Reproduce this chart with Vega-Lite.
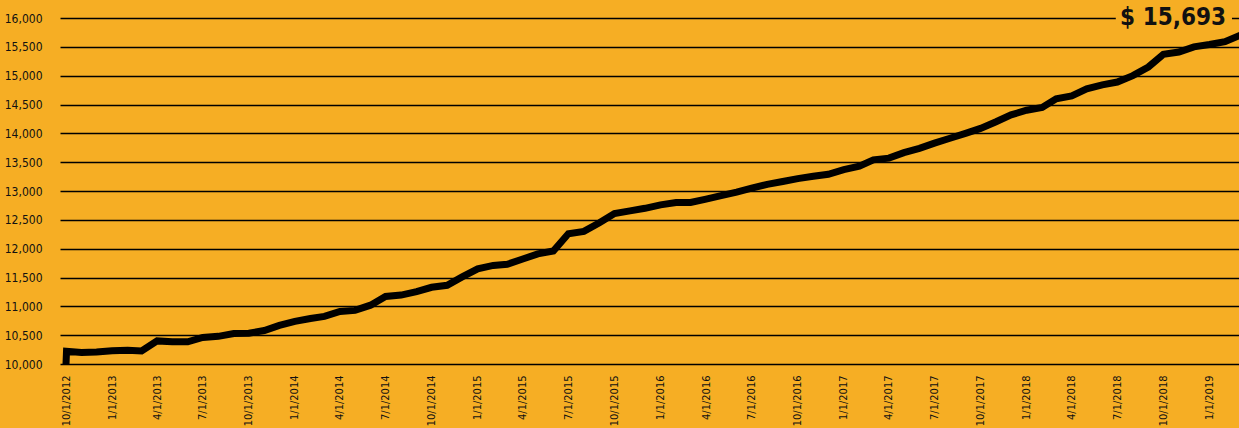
{
  "$schema": "https://vega.github.io/schema/vega-lite/v6.json",
  "autosize": {"type": "none"},
  "width": 1179,
  "height": 346,
  "padding": {"left": 60, "top": 18, "right": 0, "bottom": 64},
  "background": "#F6AE24",
  "config": {
    "view": {"stroke": null},
    "font": "DejaVu Sans Condensed, Roboto, sans-serif",
    "axis": {"labelFont": "DejaVu Sans Condensed, Roboto, sans-serif", "labelColor": "#111111"},
    "axisX": {
      "title": null,
      "format": "%-m/%-d/%Y",
      "tickCount": {"interval": "month", "step": 3},
      "labelAngle": -90,
      "labelFontSize": 11,
      "labelPadding": 11,
      "ticks": false,
      "domain": false,
      "grid": false,
      "labelOverlap": false,
      "labelFlush": false,
      "labelBound": false
    },
    "axisY": {
      "title": null,
      "tickCount": 12,
      "format": ",.0f",
      "labelFontSize": 12,
      "labelPadding": 18,
      "labelOverlap": false,
      "ticks": false,
      "domain": false,
      "grid": true,
      "gridColor": "#000000",
      "gridWidth": 1.3,
      "gridOpacity": 1,
      "labelFlush": false
    }
  },
  "datasets": {
    "growth": [
      {"date": "2012-10-01", "value": 10000},
      {"date": "2012-10-02", "value": 10220},
      {"date": "2012-11-01", "value": 10200},
      {"date": "2012-12-01", "value": 10210},
      {"date": "2013-01-01", "value": 10230},
      {"date": "2013-02-01", "value": 10240},
      {"date": "2013-03-01", "value": 10225},
      {"date": "2013-04-01", "value": 10400},
      {"date": "2013-05-01", "value": 10385},
      {"date": "2013-06-01", "value": 10385},
      {"date": "2013-07-01", "value": 10460},
      {"date": "2013-08-01", "value": 10480},
      {"date": "2013-09-01", "value": 10530},
      {"date": "2013-10-01", "value": 10535},
      {"date": "2013-11-01", "value": 10580},
      {"date": "2013-12-01", "value": 10670},
      {"date": "2014-01-01", "value": 10740},
      {"date": "2014-02-01", "value": 10790},
      {"date": "2014-03-01", "value": 10825},
      {"date": "2014-04-01", "value": 10910},
      {"date": "2014-05-01", "value": 10930},
      {"date": "2014-06-01", "value": 11020},
      {"date": "2014-07-01", "value": 11170},
      {"date": "2014-08-01", "value": 11195},
      {"date": "2014-09-01", "value": 11255},
      {"date": "2014-10-01", "value": 11330},
      {"date": "2014-11-01", "value": 11365},
      {"date": "2014-12-01", "value": 11510},
      {"date": "2015-01-01", "value": 11650},
      {"date": "2015-02-01", "value": 11710},
      {"date": "2015-03-01", "value": 11730},
      {"date": "2015-04-01", "value": 11820},
      {"date": "2015-05-01", "value": 11910},
      {"date": "2015-06-01", "value": 11960},
      {"date": "2015-07-01", "value": 12260},
      {"date": "2015-08-01", "value": 12300},
      {"date": "2015-09-01", "value": 12450},
      {"date": "2015-10-01", "value": 12610},
      {"date": "2015-11-01", "value": 12655},
      {"date": "2015-12-01", "value": 12700},
      {"date": "2016-01-01", "value": 12760},
      {"date": "2016-02-01", "value": 12800},
      {"date": "2016-03-01", "value": 12800},
      {"date": "2016-04-01", "value": 12860},
      {"date": "2016-05-01", "value": 12920},
      {"date": "2016-06-01", "value": 12980},
      {"date": "2016-07-01", "value": 13050},
      {"date": "2016-08-01", "value": 13115},
      {"date": "2016-09-01", "value": 13165},
      {"date": "2016-10-01", "value": 13215},
      {"date": "2016-11-01", "value": 13255},
      {"date": "2016-12-01", "value": 13290},
      {"date": "2017-01-01", "value": 13370},
      {"date": "2017-02-01", "value": 13430},
      {"date": "2017-03-01", "value": 13540},
      {"date": "2017-04-01", "value": 13570},
      {"date": "2017-05-01", "value": 13665},
      {"date": "2017-06-01", "value": 13740},
      {"date": "2017-07-01", "value": 13830},
      {"date": "2017-08-01", "value": 13915},
      {"date": "2017-09-01", "value": 14000},
      {"date": "2017-10-01", "value": 14085},
      {"date": "2017-11-01", "value": 14200},
      {"date": "2017-12-01", "value": 14320},
      {"date": "2018-01-01", "value": 14400},
      {"date": "2018-02-01", "value": 14450},
      {"date": "2018-03-01", "value": 14600},
      {"date": "2018-04-01", "value": 14650},
      {"date": "2018-05-01", "value": 14770},
      {"date": "2018-06-01", "value": 14840},
      {"date": "2018-07-01", "value": 14890},
      {"date": "2018-08-01", "value": 15000},
      {"date": "2018-09-01", "value": 15150},
      {"date": "2018-10-01", "value": 15370},
      {"date": "2018-11-01", "value": 15410},
      {"date": "2018-12-01", "value": 15500},
      {"date": "2019-01-01", "value": 15540},
      {"date": "2019-02-01", "value": 15590},
      {"date": "2019-03-01", "value": 15693}
    ],
    "label": [
      {"start": "2018-06-28", "end": "2019-02-15", "low": 15880, "high": 16120, "pos": "2019-02-03", "yv": 16000, "text": "$ 15,693"}
    ]
  },
  "encoding": {
    "x": {"type": "temporal", "scale": {"domain": ["2012-09-19", "2019-03-01"], "nice": false}},
    "y": {"type": "quantitative", "scale": {"domain": [10000, 16000], "nice": false, "zero": false}}
  },
  "layer": [
    {
      "data": {"name": "growth"},
      "mark": {"type": "line", "color": "#000000", "strokeWidth": 7, "strokeJoin": "miter", "strokeCap": "square", "clip": true},
      "encoding": {
        "x": {"field": "date", "type": "temporal"},
        "y": {"field": "value", "type": "quantitative"}
      }
    },
    {
      "data": {"name": "label"},
      "mark": {"type": "rect", "color": "#F6AE24"},
      "encoding": {
        "x": {"field": "start", "type": "temporal"},
        "x2": {"field": "end"},
        "y": {"field": "low", "type": "quantitative"},
        "y2": {"field": "high"}
      }
    },
    {
      "data": {"name": "label"},
      "mark": {"type": "text", "align": "right", "baseline": "middle", "font": "DejaVu Sans Condensed, Roboto, sans-serif", "fontWeight": "bold", "fontSize": 24, "color": "#111111"},
      "encoding": {
        "x": {"field": "pos", "type": "temporal"},
        "y": {"field": "yv", "type": "quantitative"},
        "text": {"field": "text"}
      }
    }
  ]
}
